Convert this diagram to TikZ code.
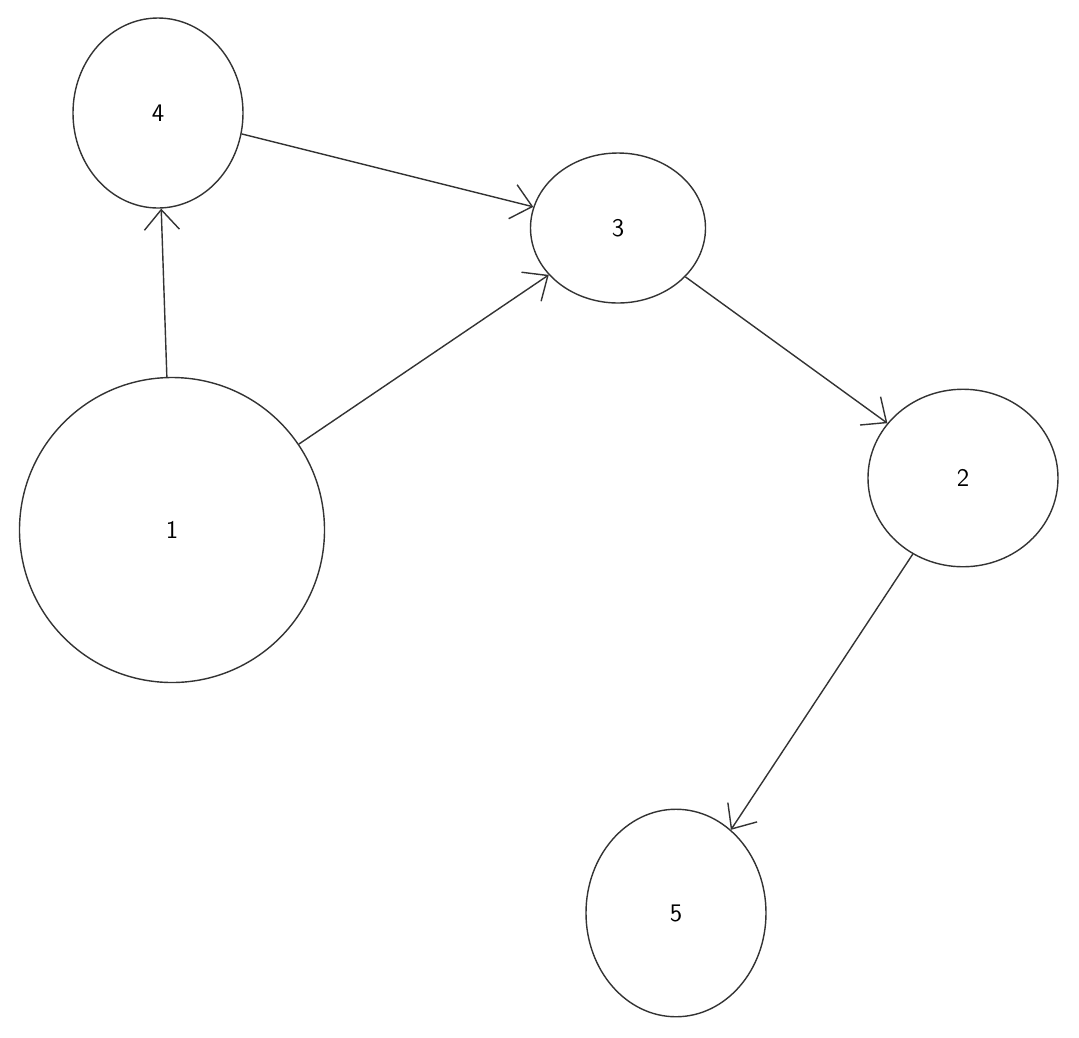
\documentclass[tikz,border=0pt]{standalone}
\usepackage{tikz}
\usetikzlibrary{%
   arrows.meta,%
   shapes.geometric,%
   positioning%
}

\begin{document}
\begin{tikzpicture}[vertex/.style={
	ellipse,
	inner sep=0pt,
	thick,
	draw=black!80,
	font=\sffamily\Large
	},link/.style={
	thick,draw=black!80,
	-{Straight Barb[length=4mm,width=7mm]}
	}
]
\useasboundingbox (0,0) rectangle (21.58,-20.74);

% nodes
\node (n4) [vertex, minimum width=3.4cm, minimum height=3.8cm] at (3.16,-2.26) {4};
\node (n3) [vertex, minimum width=3.5cm, minimum height=3.0cm] at (12.36,-4.56) {3};
\node (n1) [vertex, minimum width=6.1cm, minimum height=6.1cm] at (3.44,-10.6) {1};
\node (n2) [vertex, minimum width=3.8cm, minimum height=3.55cm] at (19.26,-9.56) {2};
\node (n5) [vertex, minimum width=3.6cm, minimum height=4.15cm] at (13.52,-18.26) {5};

% edges
\draw[link] (n1) -- (n4);
\draw[link] (n4) -- (n3);
\draw[link] (n1) -- (n3);
\draw[link] (n3) -- (n2);
\draw[link] (n2) -- (n5);

\end{tikzpicture}
\end{document}
